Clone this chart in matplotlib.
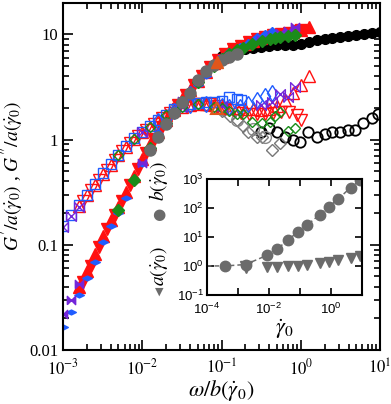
import numpy as np
import matplotlib
matplotlib.use("Agg")
import matplotlib.pyplot as plt
from matplotlib.ticker import FixedLocator, FuncFormatter, LogLocator, NullFormatter

# ---- main panel data: omega/b, G'/a (filled), G''/a (open) ----
red_up_w = [0.00158, 0.002, 0.00251, 0.00316, 0.00398, 0.00501, 0.00631, 0.00794, 0.01, 0.0126,
            0.0158, 0.02, 0.0251, 0.0316, 0.0398, 0.0501, 0.0631, 0.0794, 0.1, 0.126,
            0.158, 0.2, 0.251, 0.316, 0.398, 0.501, 0.631, 0.794, 1.0, 1.26]
red_up_gp = [0.040, 0.056, 0.082, 0.122, 0.172, 0.23, 0.32, 0.45, 0.66, 0.90,
             1.18, 1.52, 1.95, 2.45, 2.98, 3.6, 4.4, 5.3, 6.1, 6.9,
             7.6, 8.1, 8.7, 9.3, 9.7, 10.1, 10.4, 10.6, 11.0, 11.8]
red_up_gpp = [0.234, 0.295, 0.372, 0.468, 0.575, 0.708, 0.851, 1.02, 1.17, 1.32,
              1.51, 1.70, 1.91, 2.04, 2.14, 2.19, 2.19, 2.14, 2.04, 2.0,
              2.0, 1.97, 1.95, 1.93, 1.95, 2.1, 2.4, 2.8, 3.3, 4.0]

red_dn_w = [0.00178, 0.00224, 0.00282, 0.00355, 0.00447, 0.00562, 0.00708, 0.00891, 0.0112, 0.0141,
            0.0178, 0.0224, 0.0282, 0.0355, 0.0447, 0.0562, 0.0708, 0.0891, 0.112, 0.141,
            0.178, 0.224, 0.282, 0.355, 0.447, 0.562, 0.708, 0.891, 1.0]
red_dn_gp = [0.044, 0.063, 0.095, 0.14, 0.19, 0.26, 0.37, 0.53, 0.75, 1.0,
             1.31, 1.68, 2.14, 2.67, 3.29, 4.0, 4.9, 5.7, 6.5, 7.2,
             7.8, 8.4, 9.0, 9.5, 9.9, 10.2, 10.4, 10.8, 11.0]
red_dn_gpp = [0.263, 0.331, 0.417, 0.519, 0.638, 0.776, 0.93, 1.09, 1.24, 1.41,
              1.60, 1.80, 1.97, 2.09, 2.17, 2.19, 2.17, 2.09, 2.0, 1.93,
              1.80, 1.74, 1.74, 1.76, 1.80, 1.82, 1.82, 1.70, 1.55]

blue_w = [0.001, 0.00126, 0.00158, 0.002, 0.00251, 0.00316, 0.00398, 0.00501, 0.00631, 0.00794,
          0.01, 0.0126, 0.0158, 0.02, 0.0251, 0.0316, 0.0398, 0.0501, 0.0631, 0.0794,
          0.1, 0.126, 0.158, 0.178]
blue_gp = [0.0166, 0.023, 0.033, 0.048, 0.069, 0.106, 0.150, 0.199, 0.28, 0.40,
           0.585, 0.79, 1.05, 1.34, 1.73, 2.18, 2.68, 3.3, 4.06, 4.87,
           5.6, 6.3, 6.9, 7.3]
blue_gpp = [0.15, 0.19, 0.24, 0.30, 0.38, 0.48, 0.59, 0.72, 0.87, 1.04,
            1.19, 1.34, 1.53, 1.72, 1.94, 2.08, 2.2, 2.25, 2.28, 2.3,
            2.35, 2.57, 2.45, 2.40]

blue_d_w = [0.0158, 0.0251, 0.0398, 0.0631, 0.1, 0.126, 0.17, 0.219, 0.282, 0.355, 0.437]
blue_d_gp = [1.12, 1.88, 2.9, 4.4, 5.95, 6.7, 7.5, 8.1, 9.2, 9.8, 10.5]
blue_d_gpp = [1.50, 1.88, 2.12, 2.2, 2.1, 2.05, 2.04, 2.2, 2.4, 2.6, 2.8]

purple_w = [0.001, 0.00126, 0.00158, 0.01, 0.0316, 0.1, 0.316, 0.437, 0.55, 0.69, 0.85]
purple_gp = [0.022, 0.030, 0.042, 0.60, 2.33, 5.9, 8.9, 9.6, 10.3, 10.8, 11.7]
purple_gpp = [0.147, 0.187, 0.23, 1.18, 2.05, 2.1, 2.14, 2.29, 2.69, 2.57, 3.16]

green_w = [0.00501, 0.00794, 0.0126, 0.02, 0.0316, 0.0501, 0.0794, 0.1, 0.126, 0.158,
           0.186, 0.24, 0.324, 0.407, 0.468, 0.55, 0.69, 0.85]
green_gp = [0.215, 0.41, 0.83, 1.44, 2.3, 3.5, 5.0, 5.8, 6.5, 7.1,
            7.5, 8.1, 8.7, 9.0, 9.2, 9.4, 9.6, 9.8]
green_gpp = [0.71, 1.02, 1.32, 1.71, 2.04, 2.18, 2.05, 1.99, 1.86, 1.74,
             1.74, 1.48, 1.45, 1.48, 1.66, 1.82, 1.20, 1.29]

gray_w = [0.0126, 0.0158, 0.02, 0.0251, 0.0316, 0.0398, 0.0501, 0.0631, 0.0794, 0.1, 0.126, 0.158]
gray_gp = [0.80, 1.06, 1.40, 1.80, 2.26, 2.78, 3.7, 4.5, 5.1, 5.7, 6.1, 6.5]
gray_o_w = [0.0251, 0.0398, 0.0631, 0.1, 0.158, 0.251, 0.355]
gray_o_gpp = [1.9, 2.12, 2.15, 1.95, 1.55, 1.25, 1.05]

grayd_w = [0.0501, 0.0631, 0.0794, 0.1, 0.129, 0.155, 0.186, 0.214, 0.282, 0.324, 0.437, 0.55]
grayd_gpp = [2.19, 2.14, 2.0, 1.86, 1.66, 1.55, 1.35, 1.19, 1.05, 1.07, 0.80, 0.93]

black_w = [0.1, 0.126, 0.158, 0.2, 0.251, 0.316, 0.398, 0.501, 0.631, 0.794, 1.0,
           1.26, 1.58, 2.0, 2.51, 3.16, 3.98, 5.01, 6.31, 7.94, 10.0]
black_gp = [6.3, 6.6, 6.9, 7.2, 7.4, 7.6, 7.8, 7.9, 8.0, 7.9, 8.1,
            8.5, 8.8, 9.0, 9.2, 9.5, 9.7, 9.9, 10.1, 10.4, 10.6]
black_o_w = [0.316, 0.398, 0.501, 0.631, 0.794, 0.977, 1.23, 1.58, 2.0, 2.45,
             3.09, 3.89, 4.9, 6.03, 7.94, 9.33]
black_o_gpp = [1.17, 1.29, 1.17, 1.05, 1.0, 0.955, 1.17, 1.07, 1.12, 1.19,
               1.17, 1.24, 1.24, 1.45, 1.62, 1.74]

orange_w = [0.087]
orange_gp = [5.5]
orange_gpp = [2.0]

# ---- inset data ----
b_gd = [3.98e-4, 1.78e-3, 8.9e-3, 1.86e-2, 4.17e-2, 8.9e-2, 0.174, 0.437, 0.871, 1.74, 4.37, 8.51]
b_val = [1.0, 1.12, 2.34, 3.72, 8.1, 14.8, 25.7, 58.9, 112, 204, 501, 891]
a_gd = [1.78e-3, 8.9e-3, 1.86e-2, 4.17e-2, 8.9e-2, 0.174, 0.437, 0.871, 1.74, 4.37, 8.51]
a_val = [0.955, 0.912, 0.955, 0.977, 1.02, 1.07, 1.23, 1.32, 1.62, 1.95, 2.14]
fit_gd = [1e-4, 3.98e-4, 1.78e-3, 8.9e-3, 1.86e-2, 4.17e-2, 8.9e-2, 0.174, 0.437, 0.871, 1.74, 4.37, 8.51]
fit_b = [1.0, 1.0, 1.12, 2.34, 3.72, 8.1, 14.8, 25.7, 58.9, 112, 204, 501, 891]

RED = "#ff1010"
BLUE = "#1f5cff"
PURPLE = "#7326d9"
GREEN = "#1a8c1a"
GRAY = "#6b6b6b"
ORANGE = "#e0561a"

bowtie = [(-1, -1), (-1, 1), (1, -1), (1, 1), (-1, -1)]
flat_diamond = [(-1.5, 0), (0, 0.75), (1.5, 0), (0, -0.75), (-1.5, 0)]

plt.rcParams["mathtext.fontset"] = "stix"
plt.rcParams["font.family"] = "Liberation Serif"

fig = plt.figure(figsize=(3.91, 4.04), dpi=100)
ax = fig.add_axes([0.161, 0.134, 0.811, 0.859])


def filled(x, y, marker, color, ms):
    ax.plot(x, y, ls="none", marker=marker, color=color, mec=color, ms=ms)


def hollow(x, y, marker, color, ms, mew=1.0):
    ax.plot(x, y, ls="none", marker=marker, mfc="none", mec=color, ms=ms, mew=mew)


hollow(black_o_w, black_o_gpp, "o", "black", 7.5, 1.3)
filled(black_w, black_gp, "o", "black", 7)
hollow(grayd_w, grayd_gpp, "D", "#777777", 6)
hollow(gray_o_w, gray_o_gpp, "o", "#888888", 8.5)
filled(red_dn_w, red_dn_gp, "v", RED, 8)
hollow(red_dn_w, red_dn_gpp, "v", RED, 8)
filled(red_up_w, red_up_gp, "^", RED, 8)
hollow(red_up_w, red_up_gpp, "^", RED, 8)
filled(blue_w, blue_gp, flat_diamond, BLUE, 7)
hollow(blue_w, blue_gpp, "s", BLUE, 7)
filled(blue_d_w, blue_d_gp, "D", BLUE, 5)
hollow(blue_d_w, blue_d_gpp, "d", BLUE, 8)
filled(purple_w, purple_gp, bowtie, PURPLE, 6)
hollow(purple_w, purple_gpp, bowtie, PURPLE, 7)
filled(green_w, green_gp, "D", GREEN, 6.5)
hollow(green_w, green_gpp, "D", GREEN, 5.5)
filled(gray_w, gray_gp, "o", GRAY, 8)
filled(orange_w, orange_gp, "^", ORANGE, 8)
hollow(orange_w, orange_gpp, "^", ORANGE, 8, 1.5)

ax.set_xscale("log")
ax.set_yscale("log")
ax.set_xlim(1e-3, 10)
ax.set_ylim(0.01, 20)
ax.yaxis.set_major_locator(FixedLocator([0.01, 0.1, 1, 10]))
ax.yaxis.set_major_formatter(FuncFormatter(lambda v, p: {0.01: "0.01", 0.1: "0.1", 1: "1", 10: "10"}.get(round(v, 3), "")))
ax.yaxis.set_minor_locator(LogLocator(base=10, subs=np.arange(2, 10)))
ax.yaxis.set_minor_formatter(NullFormatter())
ax.xaxis.set_major_locator(FixedLocator([1e-3, 1e-2, 1e-1, 1, 10]))
ax.xaxis.set_major_formatter(FuncFormatter(lambda v, p: r"$10^{%d}$" % round(np.log10(v))))
ax.xaxis.set_minor_locator(LogLocator(base=10, subs=np.arange(2, 10)))
ax.xaxis.set_minor_formatter(NullFormatter())
ax.tick_params(which="both", direction="in", top=True, right=True, width=1.2, labelsize=12)
ax.tick_params(which="major", length=7)
ax.tick_params(which="minor", length=4)
ax.tick_params(axis="x", pad=6)
for s in ax.spines.values():
    s.set_linewidth(1.5)
ax.set_xlabel(r"$\omega/b(\dot{\gamma}_0)$", fontsize=16, labelpad=0)
ax.set_ylabel(r"$G'/a(\dot{\gamma}_0)$ , $G''/a(\dot{\gamma}_0)$", fontsize=14, labelpad=2)

# ---- inset ----
ins = fig.add_axes([0.529, 0.270, 0.396, 0.287])
ins.plot(fit_gd, fit_b, ls=(0, (3, 2)), color=GRAY, lw=1.1)
ins.plot(b_gd, b_val, ls="none", marker="o", color=GRAY, ms=7.5)
ins.plot(a_gd[:1], a_val[:1], ls="none", marker="v", color=GRAY, ms=9)
ins.plot(a_gd[1:], a_val[1:], ls="none", marker="v", color=GRAY, ms=7)
ins.set_xscale("log")
ins.set_yscale("log")
ins.set_xlim(1e-4, 10)
ins.set_ylim(0.1, 1000)
ins.xaxis.set_major_locator(FixedLocator([1e-4, 1e-3, 1e-2, 1e-1, 1, 10]))
ins.yaxis.set_major_locator(FixedLocator([0.1, 1, 10, 100, 1000]))
ins.xaxis.set_minor_locator(FixedLocator([]))
ins.yaxis.set_minor_locator(FixedLocator([]))
xl = {-4: r"$\mathregular{10^{-4}}$", -2: r"$\mathregular{10^{-2}}$", 0: r"$\mathregular{10^{0}}$"}
ins.xaxis.set_major_formatter(FuncFormatter(lambda v, p: xl.get(round(np.log10(v)), "")))
ins.yaxis.set_major_formatter(FuncFormatter(lambda v, p: r"$\mathregular{10^{%d}}$" % round(np.log10(v))))
ins.tick_params(direction="in", top=True, right=True, length=5, width=1.2, labelsize=9.5)
ins.tick_params(axis="y", pad=2)
ins.tick_params(axis="x", pad=5)
for lab in ins.get_xticklabels() + ins.get_yticklabels():
    lab.set_fontfamily("Liberation Sans")
for s in ins.spines.values():
    s.set_linewidth(1.5)
ins.set_xlabel(r"$\dot{\gamma}_0$", fontsize=16, labelpad=0)
ins.text(-0.31, 0.03, "\u25bc", transform=ins.transAxes, color=GRAY,
         fontsize=8, ha="center", va="center", family="DejaVu Sans")
ins.text(-0.31, 0.25, r"$a(\dot{\gamma}_0)$", transform=ins.transAxes, rotation=90,
         fontsize=14, ha="center", va="center")
ins.text(-0.31, 0.69, "\u25cf", transform=ins.transAxes, color=GRAY,
         fontsize=11, ha="center", va="center", family="DejaVu Sans")
ins.text(-0.31, 0.98, r"$b(\dot{\gamma}_0)$", transform=ins.transAxes, rotation=90,
         fontsize=14, ha="center", va="center")

fig.savefig("out.png", dpi=100)
